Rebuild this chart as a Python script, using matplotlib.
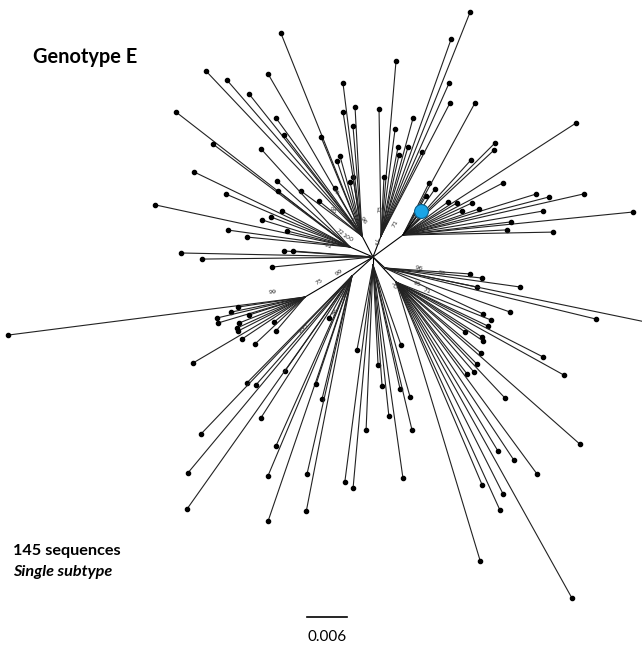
import numpy as np
import matplotlib
matplotlib.use('Agg')
from matplotlib import pyplot as plt

# Unrooted tree, genotype E. Branch lengths in drawing units
# (1 unit = 0.006/40 subst./site), angles in degrees (0 = right, ccw).

# internal nodes: name -> (parent, angle, length)
nodes = {
    'root': (None, 0.0, 0.0),
    'UL':   ('root', 117.6, 23.7),
    'L':    ('root', 156.5, 25.1),
    'C71':  ('root', 69.1, 22.5),
    'R':    ('root', 36.3, 37.2),
    'C99':  ('root', 210.5, 78.9),
    'LL':   ('root', 222.1, 28.3),
    'LM':   ('root', 270.0, 8.0),
    'RL1':  ('root', 317.5, 16.3),
    'RL2':  ('root', 312.6, 34.0),
}

# tips per node: (angle, length)
tips_UL = [(111.8, 218.6), (133.4, 227.1), (130.9, 206.3), (120.1, 187.3),
           (128.5, 181.5), (126.1, 146.0), (127.7, 127.6), (112.5, 107.2),
           (108.4, 79.1), (105.4, 83.0), (98.7, 59.7), (102.5, 55.3),
           (119.4, 55.1), (140.9, 55.4), (97.1, 154.2), (93.1, 129.2),
           (98.7, 125.4), (94.7, 110.4), (143.6, 75.8)]
tips_L = [(142.2, 220.2), (143.1, 171.4), (132.2, 132.4), (154.3, 173.1),
          (137.9, 98.4), (142.1, 91.2), (156.9, 134.9), (167.8, 199.5),
          (152.1, 76.9), (162.9, 92.0), (159.2, 84.5), (172.1, 123.2),
          (165.7, 65.0), (174.5, 103.5)]
tips_root = [(178.8, 192.0), (180.7, 171.0), (185.7, 101.5), (176.1, 89.2),
             (175.7, 80.2)]
tips_C71 = [(85.1, 175.6), (90.9, 127.0), (87.1, 59.1), (82.5, 107.9),
            (79.2, 90.6), (77.5, 83.0), (73.1, 93.0), (74.8, 122.3),
            (64.0, 93.5), (66.0, 167.4), (62.6, 149.8), (70.4, 209.1),
            (68.3, 241.0)]
tips_R = [(32.9, 206.1), (45.0, 130.1), (43.0, 124.5), (47.8, 101.2),
          (27.5, 112.7), (63.4, 58.1), (55.2, 56.0), (17.1, 139.2),
          (14.6, 150.9), (12.8, 185.6), (59.5, 45.3), (36.3, 55.8),
          (30.7, 62.8), (24.9, 76.1), (22.1, 63.7), (18.9, 80.3),
          (9.7, 142.0), (5.7, 231.1), (6.9, 108.8), (2.8, 104.1),
          (1.1, 150.0), (61.4, 150.4)]
tips_C99 = [(187.3, 299.4), (188.5, 67.7), (191.5, 75.5), (193.4, 90.5),
            (196.6, 90.8), (197.8, 58.8), (201.5, 70.9), (204.5, 74.7),
            (206.9, 75.1), (218.9, 39.8), (229.5, 44.7), (213.7, 75.7),
            (223.2, 68.6), (210.5, 130.0)]
tips_LL = [(225.5, 149.9), (228.6, 145.2), (234.8, 116.3), (237.3, 168.7),
           (226.3, 218.5), (230.2, 256.3), (234.7, 285.5), (245.9, 186.2),
           (247.2, 216.9), (251.1, 259.0), (251.6, 113.8), (256.3, 126.6),
           (241.3, 47.9), (257.2, 203.0), (259.0, 239.5)]
tips_LM = [(259.3, 86.5), (262.6, 218.8), (264.9, 223.9), (267.6, 165.1),
           (272.9, 100.1), (274.3, 121.3), (276.0, 151.8), (282.3, 126.9),
           (289.3, 84.8), (285.7, 137.1), (283.3, 169.5), (278.0, 215.1)]
tips_RL1 = [(356.0, 85.2), (354.1, 97.5), (348.3, 93.9), (352.0, 136.3),
            (346.4, 217.1), (348.3, 285.0), (340.6, 132.5), (334.9, 108.3)]
tips_RL2 = [(338.2, 102.3), (334.4, 102.0), (324.1, 85.2), (327.4, 102.1),
            (325.9, 105.1), (320.1, 110.8), (333.0, 165.0), (331.0, 192.0),
            (314.6, 115.3), (310.9, 119.1), (307.7, 116.2), (313.2, 159.2),
            (318.6, 245.2), (301.1, 197.4), (303.5, 213.6), (306.3, 238.2),
            (293.0, 220.5), (296.8, 237.5), (294.5, 250.6), (299.1, 361.7),
            (286.8, 291.4)]

tips = {'UL': tips_UL, 'L': tips_L, 'root': tips_root, 'C71': tips_C71,
        'R': tips_R, 'C99': tips_C99, 'LL': tips_LL, 'LM': tips_LM,
        'RL1': tips_RL1, 'RL2': tips_RL2}

# highlighted sequence (blue)
query = ('R', 53.0, 30.0)

# bootstrap support values and where they sit
boot_vals = ['99', '75', '99', '91', '86', '100', '96', '88', '70', '95',
             '71', '71', '75', '71', '99', '95', '100', '96', '100', '91', '72']
boot_pos = [(273, 292, 5), (319, 282, 30), (339, 272, 35), (345, 294, 60),
            (336, 312, 55), (303, 329, 40), (419, 268, -10), (442, 273, -10),
            (393, 285, -70), (417, 284, -20), (427, 291, -20), (375, 242, -85),
            (380, 209, 85), (395, 224, 60), (335, 192, -55), (333, 210, -40),
            (353, 223, -50), (363, 221, -55), (347, 238, -30), (328, 246, -20),
            (340, 232, -35)]

n_seq = 145
scale_bar = 0.006
UNIT = 0.006 / 40.0

root_xy = (373.0, 257.0)


def node_xy(name):
    parent, ang, ln = nodes[name]
    if parent is None:
        return root_xy
    px, py = node_xy(parent)
    a = np.deg2rad(ang)
    return px + ln * np.cos(a), py - ln * np.sin(a)


fig = plt.figure(figsize=(6.42, 6.46), dpi=100)
ax = fig.add_axes([0, 0, 1, 1])
ax.set_xlim(0, 642)
ax.set_ylim(646, 0)
ax.axis('off')

lw = 0.8
for name, (parent, ang, ln) in nodes.items():
    if parent is None:
        continue
    x0, y0 = node_xy(parent)
    x1, y1 = node_xy(name)
    ax.plot([x0, x1], [y0, y1], color='black', lw=lw, solid_capstyle='round')

for name, tl in tips.items():
    hx, hy = node_xy(name)
    for ang, ln in tl:
        a = np.deg2rad(ang)
        tx, ty = hx + ln * np.cos(a), hy - ln * np.sin(a)
        ax.plot([hx, tx], [hy, ty], color='#222222', lw=lw)
        ax.plot(tx, ty, 'o', color='black', ms=3.0, clip_on=True)

qn, qa, ql = query
hx, hy = node_xy(qn)
qx = hx + ql * np.cos(np.deg2rad(qa))
qy = hy - ql * np.sin(np.deg2rad(qa))
ax.plot([hx, qx], [hy, qy], color='black', lw=lw)
ax.plot(qx, qy, 'o', color='#1ba5e6', mec='#0d5f8a', mew=0.8, ms=10, zorder=5)

for val, (bx, by, rot) in zip(boot_vals, boot_pos):
    ax.text(bx, by, val, fontsize=4.6, rotation=rot, ha='center', va='center',
            color='#333333', family='DejaVu Sans')

ax.text(33, 57, 'Genotype E', fontsize=14.4, fontweight='bold',
        family='Lato', ha='left', va='center')
ax.text(13, 551, '%d sequences' % n_seq, fontsize=11.7, fontweight='bold',
        family='Lato', ha='left', va='center')
ax.text(13, 572, 'Single subtype', fontsize=11.7, fontweight='bold',
        style='italic', family='Lato', ha='left', va='center')

sb_len = scale_bar / UNIT
ax.plot([307, 307 + sb_len], [617, 617], color='black', lw=1.2)
ax.text(307 + sb_len / 2, 637, '%.3f' % scale_bar, fontsize=11,
        family='Lato', ha='center', va='center')

fig.savefig('out.png', dpi=100)
